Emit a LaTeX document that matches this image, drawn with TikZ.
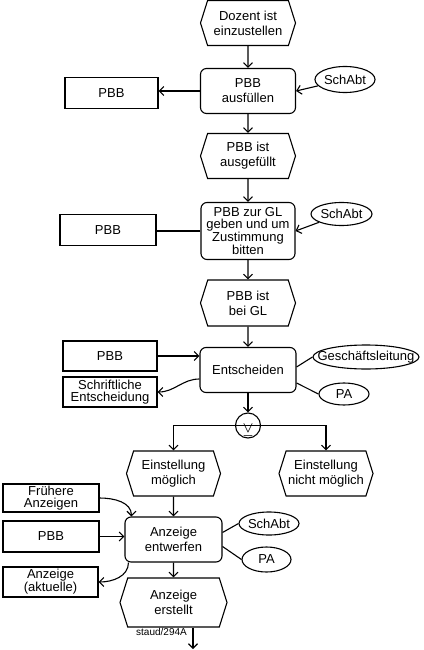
\documentclass[tikz,border=0pt]{standalone}
\usepackage{amsmath,amssymb}
\usepackage{fontspec}
\setmainfont{Liberation Sans}
\usepackage{tikz}
\usetikzlibrary{arrows.meta,shapes.geometric,shapes.symbols}

\begin{document}
\begin{tikzpicture}[x=1pt,y=-1pt,
  every node/.style={font=\fontsize{13}{15}\selectfont,align=center},
  ev/.style={signal,signal to=west and east,signal pointer angle=145,draw,line width=1.1pt,minimum width=95pt,minimum height=45pt,inner sep=0pt},
  fn/.style={rectangle,rounded corners=6pt,draw,line width=1.1pt,minimum width=95pt,minimum height=45pt,inner sep=1pt},
  doc/.style={rectangle,draw,line width=1.1pt,minimum width=94pt,minimum height=31pt,inner sep=1pt},
  org/.style={ellipse,draw,line width=1.1pt,inner sep=0pt},
  tight/.style={font=\fontsize{13}{12}\selectfont},
  ln/.style={line width=1.1pt},
  arr/.style={ln,-{Straight Barb[length=4.5pt,width=9pt]}}]
  \useasboundingbox (0,0) rectangle (423,650);
  % upper column
  \node[ev] (ev1) at (248,23) {Dozent ist\\einzustellen};
  \node[fn] (fn1) at (248,91) {PBB\\ausfüllen};
  \node[doc,minimum width=93pt] (doc1) at (111.5,93) {PBB};
  \node[org,minimum width=60pt,minimum height=26pt] (org1) at (345,79.5) {SchAbt};
  \node[ev] (ev2) at (248,156) {PBB ist\\ausgefüllt};
  \node[fn,tight,minimum width=94pt,minimum height=57pt] (fn2) at (248,231) {PBB zur GL\\geben und um\\Zustimmung\\bitten};
  \node[doc,minimum width=96pt] (doc2) at (108,230) {PBB};
  \node[org,minimum width=61pt,minimum height=23pt] (org2) at (341.5,214) {SchAbt};
  \node[ev,minimum height=46pt] (ev3) at (248,303) {PBB ist\\bei GL};
  \node[fn,minimum width=96pt] (fn3) at (248,370) {Entscheiden};
  \node[doc,minimum height=30pt] (doc3) at (110,356) {PBB};
  \node[doc,tight,minimum height=30pt] (doc4) at (110,392) {Schriftliche\\Entscheidung};
  \node[org,minimum width=106pt,minimum height=24pt] (org3) at (366,357) {\makebox[40pt]{Geschäftsleitung}};
  \node[org,minimum width=50pt,minimum height=22pt] (org4) at (344,394) {PA};
  % xor split
  \node[circle,draw,ln,minimum size=25pt,inner sep=0pt] (xor) at (248,425.5) {};
  \node[font=\fontsize{18}{18}\selectfont,inner sep=0pt] (xsym) at (248,432) {$\veebar$};
  \node[ev,minimum width=94pt] (ev4) at (173.5,473.5) {Einstellung\\möglich};
  \node[ev,minimum width=94pt] (ev5) at (326,473.5) {Einstellung\\nicht möglich};
  % lower column
  \node[fn,minimum width=97pt] (fn4) at (173.5,539.5) {Anzeige\\entwerfen};
  \node[doc,tight,minimum width=96pt,minimum height=28pt] (doc5) at (51,498) {Frühere\\Anzeigen};
  \node[doc,minimum width=96pt] (doc6) at (51,536.5) {PBB};
  \node[doc,tight,minimum width=95pt,minimum height=30pt] (doc7) at (50.5,582) {Anzeige\\(aktuelle)};
  \node[org,minimum width=60pt,minimum height=23pt] (org5) at (269,523.5) {SchAbt};
  \node[org,minimum width=49pt,minimum height=25pt] (org6) at (266.5,559.5) {PA};
  \node[ev,minimum width=107pt,minimum height=49pt] (ev6) at (173.5,602.5) {Anzeige\\erstellt};
  \node[font=\fontsize{10}{10}\selectfont] (src) at (161.5,632) {staud/294A};
  \coordinate (endp) at (193,649);

  \draw[arr] (ev1) -- (fn1);
  \draw[arr] (fn1.west) -- (fn1.west -| doc1.east);
  \draw[arr] (org1) -- (fn1.east);
  \draw[arr] (fn1) -- (ev2);
  \draw[arr] (ev2) -- (fn2);
  \draw[ln] (fn2.west) -- (fn2.west -| doc2.east);
  \draw[arr] (org2) -- (fn2.east);
  \draw[arr] (fn2) -- (ev3);
  \draw[arr] (ev3) -- (fn3);
  \draw[arr] (doc3.east) -- (doc3.east -| fn3.west);
  \draw[arr] ([yshift=-9pt]fn3.west) to[out=180,in=0] (doc4.east);
  \draw[ln] ([yshift=3pt]fn3.east) -- (org3.west);
  \draw[ln] ([yshift=-13pt]fn3.east) -- (org4.west);
  \draw[arr] (fn3) -- (xor);
  \draw[ln] (xor.west) -- (xor.east);
  \draw[arr] (xor.west) -| (ev4.north);
  \draw[arr] (xor.east) -| (ev5.north);
  \draw[arr] (ev4) -- (fn4);
  \draw[arr] (doc5.east) to[out=0,in=90] ([xshift=7pt]fn4.north west);
  \draw[arr] (doc6.east) -- (doc6.east -| fn4.west);
  \draw[arr] ([xshift=4pt]fn4.south west) to[out=-90,in=0] (doc7.east);
  \draw[ln] ([yshift=7pt]fn4.east) -- (org5.west);
  \draw[ln] ([yshift=-7pt]fn4.east) -- (org6.west);
  \draw[arr] (fn4) -- (ev6);
  \draw[arr] (ev6.south -| endp) -- (endp);
\end{tikzpicture}
\end{document}
